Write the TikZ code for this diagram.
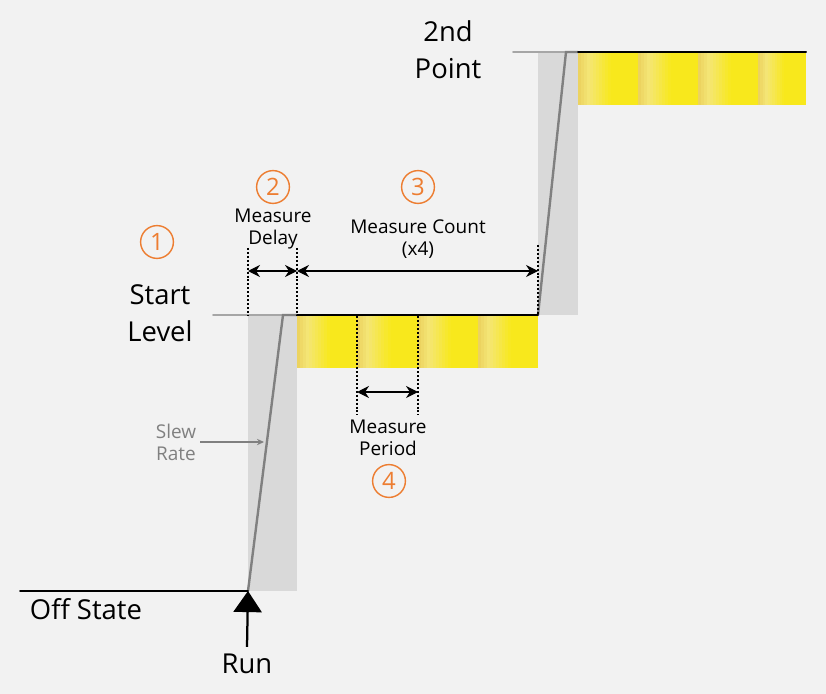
\documentclass[tikz,border=0pt]{standalone}
\usepackage{fontspec}
\setmainfont{Open Sans}
\usetikzlibrary{positioning, arrows.meta}

\definecolor{bg}{HTML}{F2F2F2}
\definecolor{band}{HTML}{D9D9D9}
\definecolor{slew}{HTML}{808080}
\definecolor{lvl}{HTML}{A6A6A6}
\definecolor{num}{HTML}{ED7D31}
\definecolor{gold}{HTML}{EBD05C}
\definecolor{pale}{HTML}{F4E676}
\definecolor{yel}{HTML}{F8E81C}

\begin{document}
\begin{tikzpicture}[
    x=0.025cm, y=-0.025cm, >=Stealth,
    lbl/.style={align=center, inner sep=0pt, font=\fontsize{13.5}{15.5}\selectfont},
    big/.style={align=center, inner sep=0pt, font=\fontsize{19.5}{26}\selectfont},
    stepnum/.style={circle, draw=num, text=num, line width=1pt, minimum size=0.82cm,
        inner sep=0pt, font=\fontsize{17}{17}\selectfont},
    tick/.style={line width=1.4pt, dash pattern=on 1.4pt off 1.4pt},
    dim/.style={<->, >={Stealth[length=8.5pt, width=8.5pt]}, line width=0.8pt},
    trace/.style={line width=1.4pt, line cap=round}
]
    % background
    \fill[bg] (0,0) rectangle (826,694);

    % ramps
    \fill[band] (248,315) rectangle (297,591);
    \fill[band] (538,52) rectangle (578,315);

    % measured steps, gold -> pale -> yellow in thin strips
    \foreach \x/\w/\y in {297/60/316, 357/61/316, 418/60/316, 478/60/316,
                          578/60/53, 638/60/53, 698/60/53, 758/48/53} {
        \foreach \i in {0,...,19} {
            \pgfmathsetmacro\t{(\i+0.5)/20}
            \ifdim\t pt<0.18pt
                \pgfmathsetmacro\m{100*(1-\t/0.18)}
                \colorlet{stripc}{gold!\m!pale}
            \else\ifdim\t pt<0.55pt
                \pgfmathsetmacro\m{100*(1-(\t-0.18)/0.37)}
                \colorlet{stripc}{pale!\m!yel}
            \else
                \colorlet{stripc}{yel}
            \fi\fi
            \fill[stripc] (\x+\i*\w/20,\y) rectangle (\x+\i*\w/20+\w/20+0.3,\y+52);
        }
    }

    \coordinate (off0) at (20,591);
    \coordinate (run)  at (248,591);
    \coordinate (lvl1) at (213,315);
    \coordinate (top1) at (283,315);
    \coordinate (beg1) at (297,315);
    \coordinate (end1) at (538,315);
    \coordinate (lvl2) at (513,52);
    \coordinate (top2) at (566,52);
    \coordinate (beg2) at (578,52);
    \coordinate (end2) at (806,52);

    \draw[trace, lvl] (lvl1) -- (beg1);
    \draw[trace, lvl] (lvl2) -- (beg2);
    \draw[trace, slew, line width=1.7pt] (run) -- (top1) -- (beg1);
    \draw[trace, slew, line width=1.7pt] (end1) -- (top2) -- (beg2);
    \draw[trace] (off0) -- (run);
    \draw[trace] (beg1) -- (end1);
    \draw[trace] (beg2) -- (end2);

    % dimension ticks
    \coordinate (t1) at (248,248);
    \coordinate (t2) at (297,248);
    \coordinate (t3) at (538,245);
    \coordinate (b1) at (248,315);
    \coordinate (p1) at (357,316);
    \coordinate (p2) at (418,316);
    \coordinate (q1) at (357,415);
    \coordinate (q2) at (418,415);
    \draw[tick] (t1) -- (b1);
    \draw[tick] (t2) -- (beg1);
    \draw[tick] (t3) -- (end1);
    \draw[tick] (p1) -- (q1);
    \draw[tick] (p2) -- (q2);

    \draw[dim] (248,271) -- (297,271);
    \draw[dim] (297,271) -- (538,271);
    \draw[dim] (357,392) -- (418,392);

    % labels
    \node[big] (start)  at (160,313) {Start\\Level};
    \node[big] (second) at (448,50)  {2nd\\Point};
    \node[big] (offst)  at (86,609)  {Off State};
    \node[big] (runlbl) at (247,664) {Run};
    \node[lbl] (dly) at (273,229) {Measure\\Delay};
    \node[lbl] (cnt) at (418,239) {Measure Count\\(x4)};
    \node[lbl] (per) at (388,438) {Measure\\Period};
    \node[lbl, text=slew] (slewlbl) at (176,442) {Slew\\Rate};

    \node[stepnum] (n1) at (157,242) {1};
    \node[stepnum] (n2) at (273,187) {2};
    \node[stepnum] (n3) at (418,187) {3};
    \node[stepnum] (n4) at (389,481) {4};

    \coordinate (slewpt) at (264,442);
    \draw[->, >={Stealth[length=5pt, width=4.5pt]}, slew, line width=1.2pt]
        (slewlbl.east) ++(4,0) -- (slewpt);
    \draw[-{Triangle[length=15pt, width=20pt]}, line width=1.6pt]
        (runlbl.north) ++(0,-7) -- (run);
\end{tikzpicture}
\end{document}
